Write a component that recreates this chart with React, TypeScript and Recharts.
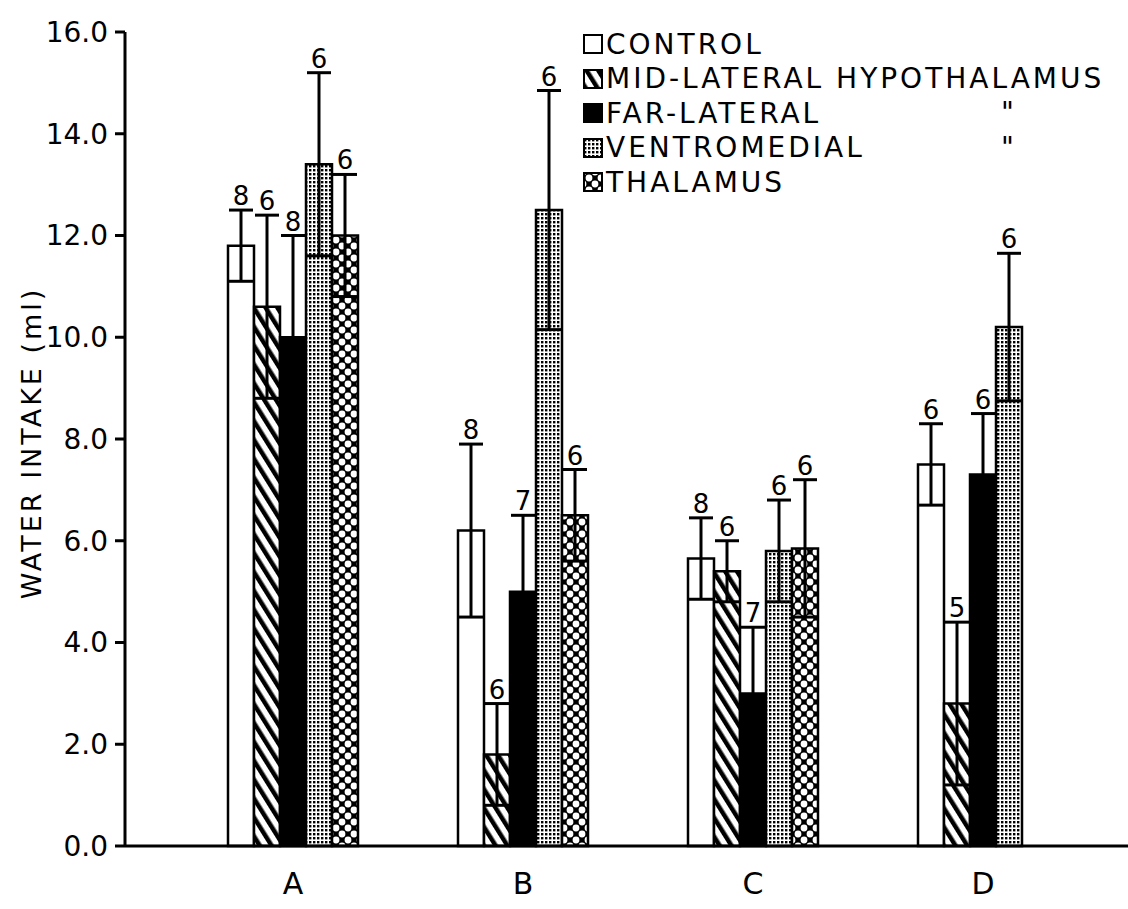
import React from 'react';
import { BarChart, Bar, XAxis, YAxis, ErrorBar, LabelList, Legend } from 'recharts';

const FONT = '"DejaVu Sans", "Liberation Sans", sans-serif';

const groups = ['A', 'B', 'C', 'D'];

const controlMean = [11.8, 6.2, 5.65, 7.5];
const controlErr = [0.7, 1.7, 0.8, 0.8];
const controlN = [8, 8, 8, 6];

const midMean = [10.6, 1.8, 5.4, 2.8];
const midErr = [1.8, 1.0, 0.6, 1.6];
const midN = [6, 6, 6, 5];

const farMean = [10.0, 5.0, 3.0, 7.3];
const farErr = [2.0, 1.5, 1.3, 1.2];
const farN = [8, 7, 7, 6];

const vmhMean = [13.4, 12.5, 5.8, 10.2];
const vmhErr = [1.8, 2.35, 1.0, 1.45];
const vmhN = [6, 6, 6, 6];

const thalMean = [12.0, 6.5, 5.85, null];
const thalErr = [1.2, 0.9, 1.35, null];
const thalN = [6, 6, 6, null];

const yTicks = [0, 2, 4, 6, 8, 10, 12, 14, 16];

const rows = groups.map((g, i) => ({
  group: g,
  control: controlMean[i],
  controlErr: controlErr[i],
  mid: midMean[i],
  midErr: midErr[i],
  far: farMean[i],
  farErr: farErr[i],
  vmh: vmhMean[i],
  vmhErr: vmhErr[i],
  thal: thalMean[i],
  thalErr: thalErr[i],
}));

const FILLS: Record<string, string> = {
  control: '#ffffff',
  mid: 'url(#hatch)',
  far: '#000000',
  vmh: 'url(#stipple)',
  thal: 'url(#lattice)',
};

const LEGEND_ORDER = ['control', 'mid', 'far', 'vmh', 'thal'];
const LEGEND_NAMES: Record<string, string> = {
  control: 'CONTROL',
  mid: 'MID-LATERAL HYPOTHALAMUS',
  far: 'FAR-LATERAL',
  vmh: 'VENTROMEDIAL',
  thal: 'THALAMUS',
};
const DITTO = ['far', 'vmh'];

// n above the top cap of each error bar
const countLabel = (means: (number | null)[], errs: (number | null)[], ns: (number | null)[]) =>
  (props: any) => {
    const vb = props.viewBox ?? props;
    const x = vb.x ?? props.x;
    const y = vb.y ?? props.y;
    const w = vb.width ?? props.width;
    const h = vb.height ?? props.height;
    const i = props.index;
    const m = means[i];
    if (m == null || ns[i] == null) return null;
    const ppu = m ? Math.abs(h) / m : 50.875;
    const top = y - (errs[i] ?? 0) * ppu;
    return (
      <text x={x + w / 2} y={top - 5} textAnchor="middle" fontSize={26} fontFamily={FONT} fill="#000">
        {ns[i]}
      </text>
    );
  };

const Swatch = ({ fill }: { fill: string }) => (
  <svg width={20} height={20} style={{ display: 'block' }}>
    <rect x={1} y={1} width={18} height={18} fill={fill} stroke="#000" strokeWidth={2} />
  </svg>
);

const renderLegend = () => (
  <div style={{ position: 'relative', fontFamily: FONT, fontSize: 28, letterSpacing: 3, color: '#000' }}>
    {LEGEND_ORDER.map((key) => (
      <div key={key} style={{ display: 'flex', alignItems: 'center', height: 34.5, position: 'relative' }}>
        <Swatch fill={FILLS[key]} />
        <span style={{ marginLeft: 3, whiteSpace: 'nowrap' }}>{LEGEND_NAMES[key]}</span>
        {DITTO.includes(key) && (
          <span style={{ position: 'absolute', left: 418, top: 0 }}>"</span>
        )}
      </div>
    ))}
  </div>
);

const YLabel = () => (
  <text
    x={31}
    y={443}
    transform="rotate(-90, 31, 443)"
    textAnchor="middle"
    dominantBaseline="central"
    fontSize={27}
    letterSpacing={3}
    fontFamily={FONT}
    fill="#000"
  >
    WATER INTAKE (ml)
  </text>
);

export default function App() {
  return (
    <div style={{ position: 'absolute', left: 0, top: 0, width: 1128, height: 909, background: '#fff' }}>
      <BarChart
        width={1128}
        height={909}
        data={rows}
        margin={{ top: 32, right: 0, left: 0, bottom: 0 }}
        barGap={0}
        barSize={26}
      >
        <defs>
          <pattern id="hatch" patternUnits="userSpaceOnUse" width={10} height={10} patternTransform="rotate(-32)">
            <rect width={10} height={10} fill="#fff" />
            <rect x={0} y={0} width={4.5} height={10} fill="#000" />
          </pattern>
          <pattern id="stipple" patternUnits="userSpaceOnUse" width={4} height={4}>
            <rect width={4} height={4} fill="#fff" />
            <rect x={1} y={1} width={2.4} height={2.4} fill="#000" />
          </pattern>
          <pattern id="lattice" patternUnits="userSpaceOnUse" width={12} height={12}>
            <rect width={12} height={12} fill="#000" />
            <circle cx={0} cy={0} r={3.4} fill="#fff" />
            <circle cx={12} cy={0} r={3.4} fill="#fff" />
            <circle cx={0} cy={12} r={3.4} fill="#fff" />
            <circle cx={12} cy={12} r={3.4} fill="#fff" />
            <circle cx={6} cy={6} r={3.4} fill="#fff" />
          </pattern>
        </defs>
        <XAxis
          dataKey="group"
          height={63}
          padding={{ left: 53, right: 30 }}
          axisLine={{ stroke: '#000', strokeWidth: 3 }}
          tickLine={false}
          tickSize={0}
          tickMargin={27}
          tick={{ fill: '#000', fontSize: 30, fontFamily: FONT }}
        />
        <YAxis
          width={125}
          domain={[0, 16]}
          ticks={yTicks}
          interval={0}
          tickFormatter={(v: number) => v.toFixed(1)}
          axisLine={{ stroke: '#000', strokeWidth: 3 }}
          tickLine={{ stroke: '#000', strokeWidth: 3 }}
          tickSize={10}
          tickMargin={7}
          tick={{ fill: '#000', fontSize: 28, fontFamily: FONT }}
          label={{ content: () => <YLabel /> }}
        />
        <Legend
          layout="horizontal"
          verticalAlign="middle"
          align="center"
          wrapperStyle={{ top: 27, left: 583, width: 545 }}
          content={renderLegend}
        />
        <Bar dataKey="control" name="CONTROL" fill={FILLS.control} stroke="#000" strokeWidth={2.5} isAnimationActive={false}>
          <ErrorBar dataKey="controlErr" width={12} stroke="#000" strokeWidth={3} />
          <LabelList dataKey="control" content={countLabel(controlMean, controlErr, controlN)} />
        </Bar>
        <Bar dataKey="mid" name="MID-LATERAL HYPOTHALAMUS" fill={FILLS.mid} stroke="#000" strokeWidth={2.5} isAnimationActive={false}>
          <ErrorBar dataKey="midErr" width={12} stroke="#000" strokeWidth={3} />
          <LabelList dataKey="mid" content={countLabel(midMean, midErr, midN)} />
        </Bar>
        <Bar dataKey="far" name="FAR-LATERAL" fill={FILLS.far} stroke="#000" strokeWidth={2.5} isAnimationActive={false}>
          <ErrorBar dataKey="farErr" width={12} stroke="#000" strokeWidth={3} />
          <LabelList dataKey="far" content={countLabel(farMean, farErr, farN)} />
        </Bar>
        <Bar dataKey="vmh" name="VENTROMEDIAL" fill={FILLS.vmh} stroke="#000" strokeWidth={2.5} isAnimationActive={false}>
          <ErrorBar dataKey="vmhErr" width={12} stroke="#000" strokeWidth={3} />
          <LabelList dataKey="vmh" content={countLabel(vmhMean, vmhErr, vmhN)} />
        </Bar>
        <Bar dataKey="thal" name="THALAMUS" fill={FILLS.thal} stroke="#000" strokeWidth={2.5} isAnimationActive={false}>
          <ErrorBar dataKey="thalErr" width={12} stroke="#000" strokeWidth={3} />
          <LabelList dataKey="thal" content={countLabel(thalMean, thalErr, thalN)} />
        </Bar>
      </BarChart>
    </div>
  );
}
